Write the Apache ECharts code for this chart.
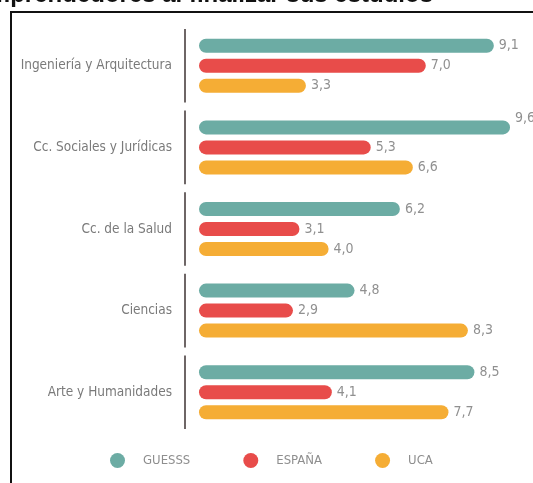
<!DOCTYPE html>
<html><head><meta charset="utf-8">
<script src="https://cdn.jsdelivr.net/npm/echarts@6/dist/echarts.min.js"></script>
<style>html,body{margin:0;padding:0;background:#fff}#c{width:533px;height:483px}</style>
</head><body><div id="c"></div>
<script>
const titleText = 'emprendedores al finalizar sus estudios';
const categories = ['Ingeniería y Arquitectura', 'Cc. Sociales y Jurídicas', 'Cc. de la Salud', 'Ciencias', 'Arte y Humanidades'];
const seriesNames = ['GUESSS', 'ESPAÑA', 'UCA'];
const guesss = [9.1, 9.6, 6.2, 4.8, 8.5];
const espana = [7.0, 5.3, 3.1, 2.9, 4.1];
const uca = [3.3, 6.6, 4.0, 8.3, 7.7];
const colors = ['#6caca4', '#e84c4a', '#f5ad35'];
const FONT = '"Liberation Sans Narrow", "DejaVu Sans Condensed", sans-serif';

const chart = echarts.init(document.getElementById('c'), null, {renderer: 'canvas'});
function mk(name, vals, color) {
  return {
    name: name, type: 'bar', barWidth: 14, barGap: '43%',
    itemStyle: {color: color, borderRadius: 7},
    label: {show: true, position: 'right', distance: 5, color: '#909090', fontSize: 14, fontFamily: FONT,
      formatter: p => p.value.toFixed(1).replace('.', ',')},
    data: vals.map(v => v > 9.5 ? {value: v, label: {offset: [0, -9]}} : v)
  };
}
chart.setOption({
  animation: false,
  graphic: [
    {type: 'rect', shape: {x: 11, y: 12, width: 560, height: 500}, style: {fill: 'none', stroke: '#111', lineWidth: 2}},
    {type: 'text', x: 433, y: 7, style: {text: titleText, textAlign: 'right', textVerticalAlign: 'bottom',
      font: 'bold 24px "Liberation Sans", Arial, sans-serif', fill: '#111'}}
  ],
  grid: {left: 199, right: 10, top: 25, bottom: 50},
  xAxis: {type: 'value', min: 0, max: 10, show: false},
  yAxis: {type: 'category', inverse: true, data: categories,
    axisLine: {show: false}, axisTick: {show: false},
    axisLabel: {margin: 27, color: '#7a7a7a', fontSize: 13.5, fontFamily: FONT}},
  legend: {bottom: 10, left: 105, icon: 'circle', itemWidth: 15, itemHeight: 15, itemGap: 53,
    data: seriesNames, textStyle: {color: '#8e8e8e', fontSize: 13, fontFamily: FONT, padding: [0, 0, 0, 13]}},
  series: [
    mk(seriesNames[0], guesss, colors[0]),
    mk(seriesNames[1], espana, colors[1]),
    mk(seriesNames[2], uca, colors[2]),
    {type: 'custom', silent: true, data: categories.map((c, i) => [0, i]),
      encode: {x: 0, y: 1},
      renderItem: (params, api) => {
        const p = api.coord([0, api.value(1)]);
        const h = api.size([0, 1])[1];
        return {type: 'line', shape: {x1: p[0] - 14, y1: p[1] - h / 2 + 4, x2: p[0] - 14, y2: p[1] + h / 2 - 4},
          style: {stroke: '#6e6666', lineWidth: 2}};
      }}
  ]
});
</script></body></html>
